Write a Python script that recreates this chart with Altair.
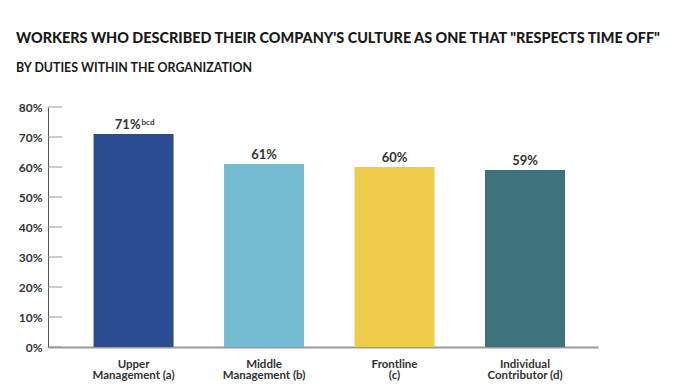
import altair as alt
import pandas as pd

categories = ["Upper\nManagement (a)", "Middle\nManagement (b)", "Frontline\n(c)", "Individual\nContributor (d)"]
values = [71, 61, 60, 59]
value_labels = ["71%", "61%", "60%", "59%"]
superscripts = ["bcd", "", "", ""]
colors = ["#2B4C90", "#72BDD4", "#EECD4A", "#3E727D"]
y_ticks = [0, 10, 20, 30, 40, 50, 60, 70, 80]

df = pd.DataFrame({
    "category": categories,
    "value": values,
    "label": value_labels,
    "sup": superscripts,
})
ticks_df = pd.DataFrame({"value": y_ticks})

FONT = "Lato"

x_axis = alt.Axis(labelAngle=0, ticks=False, domainColor="#9a9a9a", domainWidth=2,
                  labelExpr="split(datum.label, '\\n')", labelFont=FONT, labelFontSize=11.5,
                  labelFontWeight="bold", labelColor="#333333", labelPadding=11,
                  labelLineHeight=11.5, labelBaseline="top")
y_axis = alt.Axis(values=y_ticks, ticks=False, domainColor="#555555", domainWidth=1,
                  grid=False, labelExpr="datum.value + '%'", labelFont=FONT,
                  labelFontSize=12, labelFontWeight="bold", labelColor="#333333",
                  labelPadding=6, labelOverlap=False)
y_scale = alt.Scale(domain=[0, 80], nice=False)

x = alt.X("category:N", sort=None, title=None,
          scale=alt.Scale(paddingInner=0.387, paddingOuter=0.301, align=0.58),
          axis=x_axis)
y = alt.Y("value:Q", title=None, scale=y_scale, axis=y_axis)

bars = alt.Chart(df).mark_bar(size=80).encode(
    x=x,
    y=y,
    color=alt.Color("category:N", sort=None, legend=None,
                    scale=alt.Scale(domain=categories, range=colors)),
)

tick_rules = alt.Chart(ticks_df).mark_rule(color="#999999", strokeWidth=1).encode(
    y=y,
    x=alt.value(0), x2=alt.value(14),
)

plain = alt.Chart(df).transform_filter("datum.sup == ''").mark_text(
    font=FONT, fontSize=13, fontWeight="bold", color="#333333", baseline="alphabetic", dy=-5
).encode(x=x, y=y, text="label:N")

with_sup = alt.Chart(df).transform_filter("datum.sup != ''").mark_text(
    font=FONT, fontSize=13, fontWeight="bold", color="#333333", baseline="alphabetic",
    align="right", dx=7, dy=-5
).encode(x=x, y=y, text="label:N")

sup_text = alt.Chart(df).transform_filter("datum.sup != ''").mark_text(
    font=FONT, fontSize=8, fontWeight="bold", color="#333333", baseline="alphabetic",
    align="left", dx=8, dy=-9
).encode(x=x, y=y, text="sup:N")

chart = alt.layer(bars, tick_rules, plain, with_sup, sup_text).properties(
    width=550, height=240,
    autosize=alt.AutoSizeParams(type="none"),
    padding={"left": 40, "top": 99, "right": 72, "bottom": 36},
    title=alt.TitleParams(
        text="WORKERS WHO DESCRIBED THEIR COMPANY'S CULTURE AS ONE THAT \"RESPECTS TIME OFF\"",
        subtitle="BY DUTIES WITHIN THE ORGANIZATION",
        anchor="start", frame="group", dx=-32, offset=26,
        font=FONT, fontSize=14.4, fontWeight=900, color="#1a1a1a",
        subtitleFont=FONT, subtitleFontSize=12.4, subtitleFontWeight="bold",
        subtitleColor="#1a1a1a", subtitlePadding=15,
    ),
).configure_view(stroke=None)

chart.save("out.html", embed_options={"renderer": "svg", "actions": False})
